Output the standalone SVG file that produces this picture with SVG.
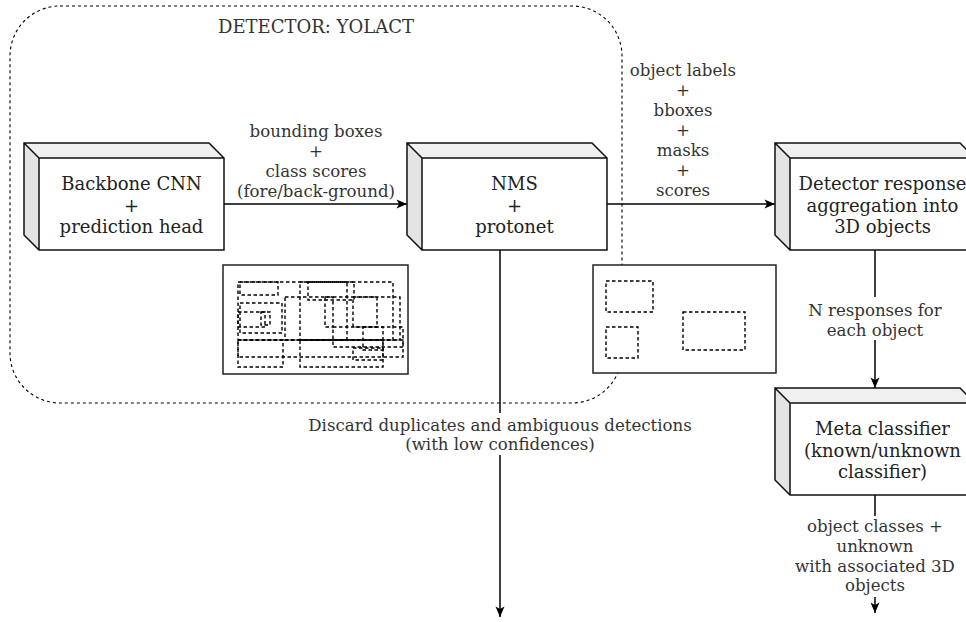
<svg xmlns="http://www.w3.org/2000/svg" width="966" height="622" viewBox="0 0 966 622">
  <style>
    .node-text { font-family: "DejaVu Serif", "Liberation Serif", serif; font-size: 18px; fill: #222; text-anchor: middle; }
    .label { font-family: "DejaVu Serif", "Liberation Serif", serif; font-size: 16.6px; fill: #333; text-anchor: middle; }
    .title { font-family: "DejaVu Serif", "Liberation Serif", serif; font-size: 18px; fill: #333; text-anchor: middle; }
    .edge { fill: none; stroke: #000; stroke-width: 1.5; }
    .frame { fill: #fff; stroke: #222; stroke-width: 1.5; }
    .det { fill: none; stroke: #000; stroke-width: 1.4; stroke-dasharray: 3.5 2.5; }
    .lbl-bg { fill: #fff; }
  </style>
  <defs>
    <marker id="arrow" viewBox="0 0 12 10" refX="11.5" refY="5" markerWidth="12" markerHeight="10" markerUnits="userSpaceOnUse" orient="auto">
      <path d="M1,0.5 L11.5,5 L1,9.5 L3.5,5 Z" fill="#000"/>
    </marker>
    <!-- 3D block: 200 x 107 with 15 px depth -->
    <g id="cube">
      <path d="M0,0 H185 L200,15 H15 Z" fill="#f0f0f0"/>
      <path d="M0,0 L15,15 V107 L0,92 Z" fill="#e4e4e4"/>
      <rect x="15" y="15" width="185" height="92" fill="#fff"/>
      <path d="M0,0 H185 L200,15 V107 H15 L0,92 Z M0,0 L15,15 H200 M15,15 V107" fill="none" stroke="#111" stroke-width="1.5" stroke-linejoin="miter"/>
    </g>
  </defs>

  <!-- detector container -->
  <g id="detector-group">
    <rect x="10" y="6" width="612" height="397" rx="50" ry="50" fill="none" stroke="#000" stroke-width="1.1" stroke-dasharray="3 3"/>
    <text class="title" x="316" y="33">DETECTOR: YOLACT</text>
  </g>

  <!-- raw detections sketch -->
  <g id="raw-detections">
    <rect class="frame" x="223" y="265" width="185" height="109"/>
    <rect class="det" x="238" y="282" width="155" height="58"/>
    <rect class="det" x="240" y="282" width="38" height="13"/>
    <rect class="det" x="240" y="303" width="42" height="30"/>
    <rect class="det" x="238" y="312" width="27" height="15"/>
    <rect class="det" x="261" y="312" width="9" height="13"/>
    <rect class="det" x="285" y="297" width="115" height="43"/>
    <rect class="det" x="300" y="282" width="47" height="58"/>
    <rect class="det" x="308" y="282" width="46" height="18"/>
    <rect class="det" x="325" y="297" width="8" height="30"/>
    <rect class="det" x="353" y="297" width="24" height="30"/>
    <rect class="det" x="333" y="327" width="70" height="20"/>
    <rect class="det" x="363" y="327" width="20" height="23"/>
    <rect class="det" x="238" y="340" width="45" height="27"/>
    <rect class="det" x="300" y="340" width="83" height="27"/>
    <rect class="det" x="238" y="340" width="165" height="17"/>
    <rect class="det" x="353" y="348" width="30" height="12"/>
  </g>

  <!-- filtered detections sketch -->
  <g id="filtered-detections">
    <rect class="frame" x="593" y="265" width="183" height="108"/>
    <rect class="det" x="606" y="281" width="47" height="31"/>
    <rect class="det" x="606" y="327" width="32" height="31"/>
    <rect class="det" x="683" y="312" width="62" height="38"/>
  </g>

  <!-- connectors -->
  <g id="connectors">
    <path class="edge" d="M224,204 H407" marker-end="url(#arrow)"/>
    <path class="edge" d="M607,204 H775" marker-end="url(#arrow)"/>
    <path class="edge" d="M500,250 V617" marker-end="url(#arrow)"/>
    <path class="edge" d="M875,250 V388" marker-end="url(#arrow)"/>
    <path class="edge" d="M875,495 V613" marker-end="url(#arrow)"/>
  </g>

  <!-- connector labels -->
  <g id="edge-labels">
    <text class="label" x="316" y="137">bounding boxes</text>
    <text class="label" x="316" y="157">+</text>
    <text class="label" x="316" y="177">class scores</text>
    <text class="label" x="316" y="197">(fore/back-ground)</text>

    <text class="label" x="683" y="76">object labels</text>
    <text class="label" x="683" y="96">+</text>
    <text class="label" x="683" y="116">bboxes</text>
    <text class="label" x="683" y="136">+</text>
    <text class="label" x="683" y="156">masks</text>
    <text class="label" x="683" y="176">+</text>
    <text class="label" x="683" y="196">scores</text>

    <rect class="lbl-bg" x="304" y="413" width="392" height="42"/>
    <text class="label" x="500" y="430.5">Discard duplicates and ambiguous detections</text>
    <text class="label" x="500" y="450">(with low confidences)</text>

    <rect class="lbl-bg" x="806" y="297" width="138" height="43"/>
    <text class="label" x="875" y="316">N responses for</text>
    <text class="label" x="875" y="335.5">each object</text>

    <rect class="lbl-bg" x="798" y="516" width="154" height="81"/>
    <text class="label" x="875" y="532">object classes +</text>
    <text class="label" x="875" y="552">unknown</text>
    <text class="label" x="875" y="571.5">with associated 3D</text>
    <text class="label" x="875" y="591">objects</text>
  </g>

  <!-- blocks -->
  <g id="backbone">
    <use href="#cube" x="24" y="143"/>
    <text class="node-text" x="131.5" y="190">Backbone CNN</text>
    <text class="node-text" x="131.5" y="211.5">+</text>
    <text class="node-text" x="131.5" y="233">prediction head</text>
  </g>
  <g id="nms">
    <use href="#cube" x="407" y="143"/>
    <text class="node-text" x="514.5" y="190">NMS</text>
    <text class="node-text" x="514.5" y="211.5">+</text>
    <text class="node-text" x="514.5" y="233">protonet</text>
  </g>
  <g id="aggregation">
    <use href="#cube" x="775" y="143"/>
    <text class="node-text" x="882.5" y="190">Detector response</text>
    <text class="node-text" x="882.5" y="211.5">aggregation into</text>
    <text class="node-text" x="882.5" y="233">3D objects</text>
  </g>
  <g id="meta-classifier">
    <use href="#cube" x="775" y="388"/>
    <text class="node-text" x="882.5" y="435">Meta classifier</text>
    <text class="node-text" x="882.5" y="456.5">(known/unknown</text>
    <text class="node-text" x="882.5" y="478">classifier)</text>
  </g>
</svg>
